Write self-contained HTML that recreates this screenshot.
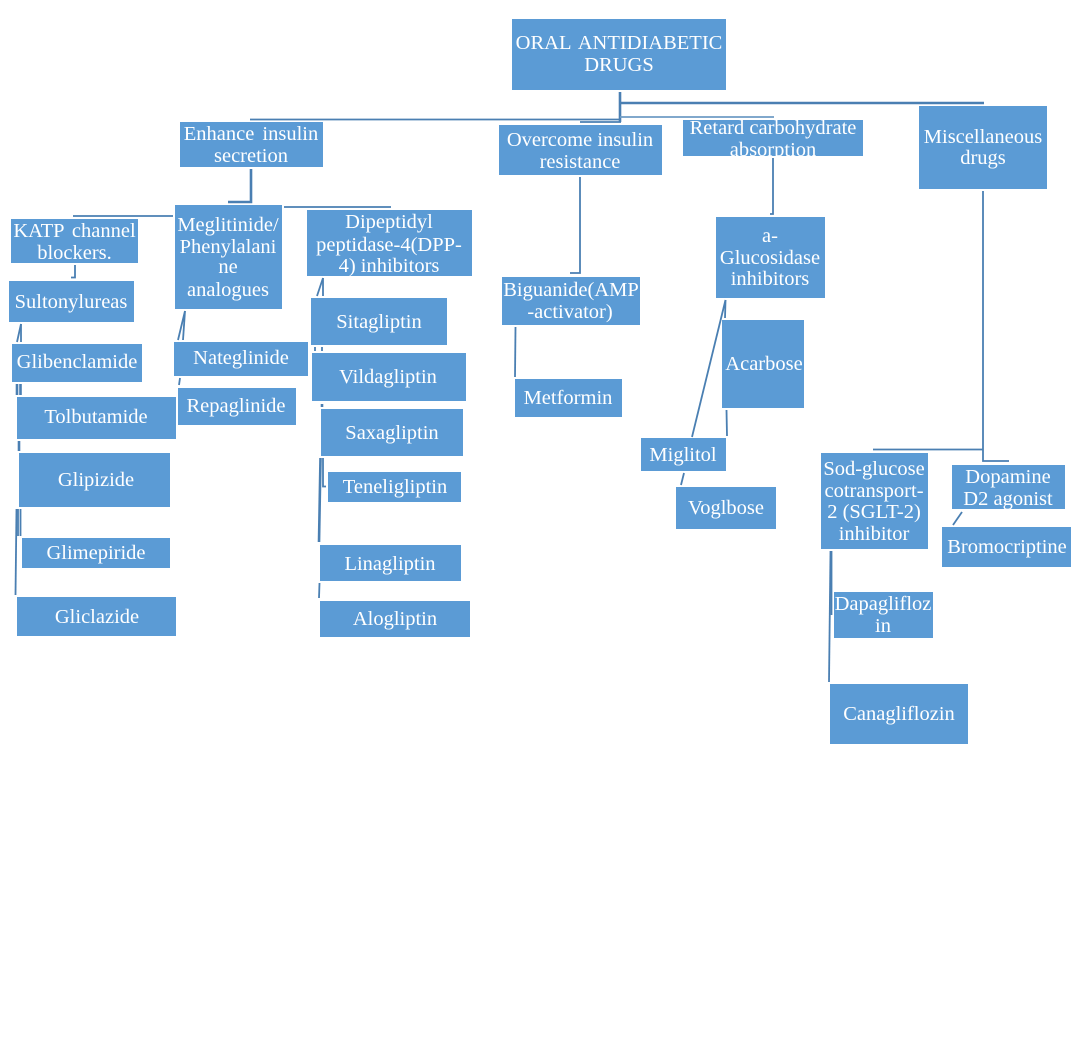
<!DOCTYPE html>
<html><head><meta charset="utf-8"><style>
html,body{margin:0;padding:0;background:#fff}
svg{display:block}
text{font-family:"Liberation Serif",serif;font-size:20.5px;fill:#fff;text-anchor:middle}
rect{fill:#5b9bd5}
line,polyline{stroke:#4a7fb2;fill:none;stroke-width:1.8}
.t{stroke-width:2.6}
.w{word-spacing:3px}
</style></head><body>
<svg width="1080" height="1053" viewBox="0 0 1080 1053" xmlns="http://www.w3.org/2000/svg">
<!-- connectors -->
<line class="t" x1="620" y1="92" x2="620" y2="122"/>
<line x1="620" y1="103" x2="984" y2="103" class="t"/>
<line x1="620" y1="117" x2="774" y2="117" style="stroke:#6f9bc4"/>
<line x1="250" y1="119.5" x2="620" y2="119.5"/>
<line x1="580" y1="122" x2="621" y2="122"/>
<polyline class="t" points="251,169 251,202 228,202"/>
<line x1="73" y1="216" x2="173" y2="216"/>
<line x1="284" y1="207" x2="391" y2="207"/>
<polyline points="75,265 75,277.5 71,277.5"/>
<line x1="21" y1="324" x2="17" y2="342"/><line x1="21" y1="324" x2="21" y2="342"/>
<line class="t" x1="17" y1="384" x2="17" y2="395"/><line class="t" x1="20.5" y1="384" x2="20.5" y2="395"/>
<line class="t" x1="19" y1="441" x2="19" y2="451"/>
<line x1="16.5" y1="509" x2="15.5" y2="595"/><line x1="20.5" y1="509" x2="20.5" y2="536"/><line x1="18" y1="509" x2="18" y2="536"/>
<line x1="185" y1="311" x2="178" y2="340"/><line x1="185" y1="311" x2="183" y2="340"/>
<line x1="180" y1="378" x2="179" y2="385"/>
<line x1="323" y1="278" x2="317" y2="296"/><line x1="323" y1="278" x2="323" y2="296"/>
<line x1="315" y1="347" x2="315" y2="351"/><line x1="322" y1="347" x2="322" y2="351"/>
<line class="t" x1="322" y1="404" x2="322" y2="407"/>
<line class="t" x1="320.5" y1="458" x2="319" y2="542"/>
<polyline points="323,458 323,486.5 326,486.5"/>
<line x1="319.5" y1="583" x2="319" y2="598"/>
<polyline points="580,177 580,273 570,273"/>
<line x1="515.5" y1="327" x2="515" y2="377"/>
<polyline points="773,158 773,214 770,214"/>
<line x1="725.5" y1="300" x2="692" y2="437"/>
<line x1="725.5" y1="300" x2="725" y2="318"/>
<line x1="726.5" y1="410" x2="727" y2="436"/>
<line x1="684" y1="473" x2="681" y2="485"/>
<polyline points="983,191 983,461 1009,461"/>
<line x1="873" y1="449.5" x2="983" y2="449.5"/>
<line x1="962" y1="512" x2="953" y2="525"/>
<line x1="830.5" y1="551" x2="829" y2="682"/><line x1="831.5" y1="551" x2="831.5" y2="615"/>
<!-- boxes -->
<rect x="512" y="19" width="214" height="71"/>
<rect x="180" y="122" width="143" height="45"/>
<rect x="499" y="125" width="163" height="50"/>
<rect x="683" y="120" width="180" height="36"/>
<rect x="919" y="106" width="128" height="83"/>
<rect x="175" y="205" width="107" height="104"/>
<rect x="307" y="210" width="165" height="66"/>
<rect x="11" y="219" width="127" height="44"/>
<rect x="9" y="281" width="125" height="41"/>
<rect x="311" y="298" width="136" height="47"/>
<rect x="12" y="344" width="130" height="38"/>
<rect x="174" y="342" width="134" height="34"/>
<rect x="312" y="353" width="154" height="48"/>
<rect x="17" y="397" width="159" height="42"/>
<rect x="178" y="388" width="118" height="37"/>
<rect x="321" y="409" width="142" height="47"/>
<rect x="19" y="453" width="151" height="54"/>
<rect x="328" y="472" width="133" height="30"/>
<rect x="22" y="538" width="148" height="30"/>
<rect x="320" y="545" width="141" height="36"/>
<rect x="17" y="597" width="159" height="39"/>
<rect x="320" y="601" width="150" height="36"/>
<rect x="716" y="217" width="109" height="81"/>
<rect x="502" y="277" width="138" height="48"/>
<rect x="722" y="320" width="82" height="88"/>
<rect x="515" y="379" width="107" height="38"/>
<rect x="641" y="438" width="85" height="33"/>
<rect x="676" y="487" width="100" height="42"/>
<rect x="821" y="453" width="107" height="96"/>
<rect x="952" y="465" width="113" height="44"/>
<rect x="942" y="527" width="129" height="40"/>
<rect x="834" y="592" width="99" height="46"/>
<rect x="830" y="684" width="138" height="60"/>
<!-- labels -->
<text class="w" x="619" y="49">ORAL ANTIDIABETIC</text><text x="619" y="71">DRUGS</text>
<text class="w" x="251" y="140">Enhance insulin</text><text x="251" y="162">secretion</text>
<text x="580" y="146">Overcome insulin</text><text x="580" y="168">resistance</text>
<text x="773" y="134">Retard carbohydrate</text><text x="773" y="156">absorption</text>
<text x="983" y="143">Miscellaneous</text><text x="983" y="164">drugs</text>
<text x="228" y="231">Meglitinide/</text><text x="228" y="253">Phenylalani</text><text x="228" y="273">ne</text><text x="228" y="296">analogues</text>
<text x="389" y="228">Dipeptidyl</text><text x="389" y="251">peptidase-4(DPP-</text><text x="389" y="272">4) inhibitors</text>
<text class="w" x="74.5" y="237">KATP channel</text><text x="74.5" y="259">blockers.</text>
<text x="71" y="308">Sultonylureas</text>
<text x="379" y="328">Sitagliptin</text>
<text x="77" y="368">Glibenclamide</text>
<text x="241" y="364">Nateglinide</text>
<text x="388" y="383">Vildagliptin</text>
<text x="96" y="423">Tolbutamide</text>
<text x="236" y="412">Repaglinide</text>
<text x="392" y="439">Saxagliptin</text>
<text x="96" y="486">Glipizide</text>
<text x="395" y="493">Teneligliptin</text>
<text x="96" y="559">Glimepiride</text>
<text x="390" y="570">Linagliptin</text>
<text x="97" y="623">Gliclazide</text>
<text x="395" y="625">Alogliptin</text>
<text x="770" y="242">a-</text><text x="770" y="264">Glucosidase</text><text x="770" y="285">inhibitors</text>
<text x="571" y="296">Biguanide(AMP</text><text x="570" y="318">-activator)</text>
<text x="764" y="370">Acarbose</text>
<text x="568" y="404">Metformin</text>
<text x="683" y="461">Miglitol</text>
<text x="726" y="514">Voglbose</text>
<text x="874" y="475">Sod-glucose</text><text x="874" y="497">cotransport-</text><text x="874" y="518">2 (SGLT-2)</text><text x="874" y="540">inhibitor</text>
<text x="1008" y="483">Dopamine</text><text x="1008" y="505">D2 agonist</text>
<text x="1007" y="553">Bromocriptine</text>
<text x="883" y="610">Dapaglifloz</text><text x="883" y="632">in</text>
<text x="899" y="720">Canagliflozin</text>
</svg>
</body></html>
